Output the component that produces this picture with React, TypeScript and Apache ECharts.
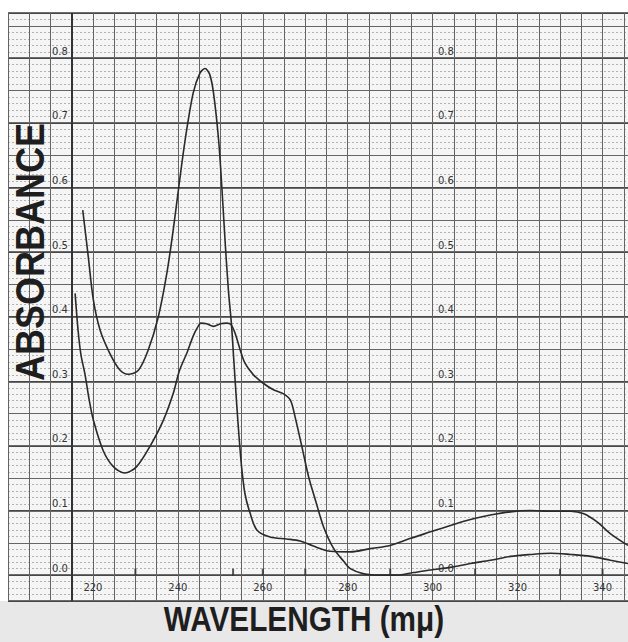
import React, { useEffect, useRef } from 'react';
import * as echarts from 'echarts';

// Upper curve (sharp peak near 246 mμ)
const wavelengthA = [217.6, 218.9, 220.1, 221.7, 224.0, 226.4, 228.3, 230.7, 233.0, 235.4, 237.4, 238.9, 240.3, 241.7, 243.6, 245.2, 246.4, 247.5, 248.4, 249.6, 250.4, 251.1, 251.9, 252.6, 253.2, 253.8, 254.4, 255.0, 255.8, 257.0, 258.6, 261.7, 265.6, 268.8, 271.9, 275.9, 280.6, 285.3, 290.0, 294.8, 299.5, 304.2, 308.9, 313.6, 318.3, 323.0, 327.8, 332.5, 335.6, 338.8, 341.9, 346.0];
const absorbanceA = [0.565, 0.493, 0.426, 0.379, 0.343, 0.317, 0.311, 0.317, 0.348, 0.400, 0.467, 0.534, 0.605, 0.673, 0.746, 0.777, 0.784, 0.775, 0.746, 0.673, 0.596, 0.519, 0.441, 0.39, 0.33, 0.27, 0.215, 0.168, 0.126, 0.096, 0.070, 0.059, 0.056, 0.053, 0.045, 0.037, 0.036, 0.041, 0.046, 0.057, 0.067, 0.077, 0.086, 0.093, 0.098, 0.100, 0.099, 0.099, 0.095, 0.082, 0.064, 0.046];

// Lower curve (flat top near 250 mμ with shoulder near 265 mμ)
const wavelengthB = [215.8, 216.5, 217.2, 218.1, 219.1, 220.1, 222.4, 224.8, 227.5, 230.3, 233.4, 236.6, 238.9, 240.4, 242.2, 243.6, 244.6, 245.4, 246.8, 248.4, 250.0, 251.5, 252.5, 253.5, 254.7, 255.8, 257.8, 260.1, 262.5, 264.8, 266.5, 267.6, 269.2, 270.8, 272.4, 274.3, 276.7, 279.1, 280.6, 283.8, 287.7, 291.6, 295.5, 299.5, 304.2, 308.9, 313.6, 318.3, 323.0, 327.8, 332.5, 337.2, 341.9, 346.0];
const absorbanceB = [0.436, 0.379, 0.340, 0.312, 0.272, 0.240, 0.193, 0.168, 0.158, 0.168, 0.199, 0.240, 0.281, 0.317, 0.345, 0.370, 0.383, 0.390, 0.389, 0.385, 0.389, 0.390, 0.388, 0.374, 0.348, 0.328, 0.310, 0.297, 0.287, 0.281, 0.271, 0.245, 0.199, 0.152, 0.116, 0.075, 0.041, 0.021, 0.010, 0.002, 0.000, 0.000, 0.004, 0.008, 0.012, 0.018, 0.023, 0.029, 0.032, 0.034, 0.032, 0.029, 0.023, 0.018];

const xTickLabels = [220, 240, 260, 280, 300, 320, 340];
const xMarkerTicks = [230, 253, 260, 270, 290, 310, 330, 340];
const baseLineWavelength = 215;
const yTitle = 'ABSORBANCE';
const xTitle = 'WAVELENGTH (mμ)';

const X_MIN = 200;
const X_MAX = 346;
const Y_MIN = -0.04;
const Y_MAX = 0.87;

export default function App() {
  const ref = useRef<HTMLDivElement>(null);

  useEffect(() => {
    if (!ref.current) return;
    const chart = echarts.init(ref.current, null, { renderer: 'svg' });

    const pairsA = wavelengthA.map((w, i) => [w, absorbanceA[i]]);
    const pairsB = wavelengthB.map((w, i) => [w, absorbanceB[i]]);
    const markerPairs = xMarkerTicks.map((w) => [w, 0]);

    const labelFont = { fontSize: 10, color: '#333', fontFamily: 'DejaVu Sans' };

    const yBase = {
      type: 'value',
      position: 'left',
      gridIndex: 0,
      min: Y_MIN,
      max: Y_MAX,
      axisLine: { show: false },
      axisTick: { show: false },
    };

    chart.setOption({
      animation: false,
      backgroundColor: '#ffffff',
      grid: [
        {
          left: 8,
          top: 13,
          width: 620,
          height: 588,
          show: true,
          backgroundColor: '#f5f5f5',
          borderWidth: 0,
          outerBoundsMode: 'none',
          containLabel: false,
        },
        {
          // same x mapping, bottom edge on the 0.0 line: carries the wavelength labels
          left: 8,
          top: 13,
          width: 620,
          height: 562,
          show: false,
          outerBoundsMode: 'none',
          containLabel: false,
        },
      ],
      xAxis: [
        {
          type: 'value',
          gridIndex: 0,
          position: 'bottom',
          min: X_MIN,
          max: X_MAX,
          minInterval: 5,
          maxInterval: 5,
          axisLine: { show: false, onZero: false },
          axisTick: { show: false },
          axisLabel: { show: false },
          splitLine: { show: true, lineStyle: { color: '#636363', width: 1 } },
        },
        {
          type: 'value',
          gridIndex: 1,
          position: 'bottom',
          min: X_MIN,
          max: X_MAX,
          minInterval: 5,
          maxInterval: 5,
          axisLine: { show: false, onZero: false },
          axisTick: { show: false },
          splitLine: { show: false },
          axisLabel: {
            ...labelFont,
            margin: 7,
            showMinLabel: false,
            showMaxLabel: false,
            formatter: (v: number) => (Math.abs(v - Math.round(v)) < 1e-6 && xTickLabels.indexOf(Math.round(v)) >= 0 ? String(Math.round(v)) : ''),
          },
        },
      ],
      yAxis: [
        {
          ...yBase,
          minInterval: 0.01,
          maxInterval: 0.01,
          axisLabel: { show: false },
          splitLine: { show: true, lineStyle: { color: '#959595', width: 0.7, type: [2, 2] } },
        },
        {
          ...yBase,
          minInterval: 0.05,
          maxInterval: 0.05,
          axisLabel: { show: false },
          splitLine: { show: true, lineStyle: { color: '#666', width: 1 } },
        },
        {
          ...yBase,
          minInterval: 0.1,
          maxInterval: 0.1,
          splitLine: { show: true, lineStyle: { color: '#3e3e3e', width: 1.6 } },
          axisLabel: {
            ...labelFont,
            inside: true,
            margin: 44,
            verticalAlign: 'bottom',
            padding: [0, 0, 2, 0],
            showMinLabel: false,
            showMaxLabel: false,
            formatter: (v: number) => v.toFixed(1),
          },
        },
        {
          ...yBase,
          minInterval: 0.1,
          maxInterval: 0.1,
          splitLine: { show: false },
          axisLabel: {
            ...labelFont,
            inside: true,
            margin: 430,
            verticalAlign: 'bottom',
            padding: [0, 0, 2, 0],
            showMinLabel: false,
            showMaxLabel: false,
            formatter: (v: number) => v.toFixed(1),
          },
        },
        {
          type: 'value',
          gridIndex: 1,
          min: 0,
          max: Y_MAX,
          show: false,
        },
      ],
      graphic: [
        {
          type: 'rect',
          shape: { x: 0, y: 601, width: 628, height: 41 },
          style: { fill: '#e8e8e8' },
          silent: true,
        },
        {
          type: 'text',
          x: 30,
          y: 252,
          rotation: Math.PI / 2,
          scaleX: 0.9,
          z: 100,
          style: {
            text: yTitle,
            font: 'bold 40px "Liberation Sans", Arial, sans-serif',
            fill: '#1e1e1e',
            align: 'center',
            verticalAlign: 'middle',
          },
        },
        {
          type: 'text',
          x: 304,
          y: 619,
          scaleX: 0.85,
          z: 100,
          style: {
            text: xTitle,
            font: 'bold 35px "Liberation Sans", Arial, sans-serif',
            fill: '#1e1e1e',
            align: 'center',
            verticalAlign: 'middle',
          },
        },
      ],
      series: [
        {
          type: 'line',
          name: 'A',
          xAxisIndex: 0,
          yAxisIndex: 0,
          data: pairsA,
          smooth: 0.3,
          showSymbol: false,
          lineStyle: { color: '#2a2a2a', width: 1.6 },
          z: 10,
          markLine: {
            silent: true,
            symbol: ['none', 'none'],
            label: { show: false },
            lineStyle: { color: '#333', width: 2, type: 'solid' },
            data: [{ xAxis: baseLineWavelength }],
          },
        },
        {
          type: 'line',
          name: 'B',
          xAxisIndex: 0,
          yAxisIndex: 0,
          data: pairsB,
          smooth: 0.3,
          showSymbol: false,
          lineStyle: { color: '#2a2a2a', width: 1.6 },
          z: 10,
        },
        {
          type: 'scatter',
          name: 'marks',
          xAxisIndex: 0,
          yAxisIndex: 0,
          data: markerPairs,
          symbol: 'rect',
          symbolSize: [2, 7],
          symbolOffset: [0, -3],
          itemStyle: { color: '#2e2e2e' },
          silent: true,
          z: 9,
        },
      ],
    });

    return () => chart.dispose();
  }, []);

  return (
    <div
      ref={ref}
      style={{ position: 'absolute', left: 0, top: 0, width: 628, height: 642 }}
    />
  );
}
